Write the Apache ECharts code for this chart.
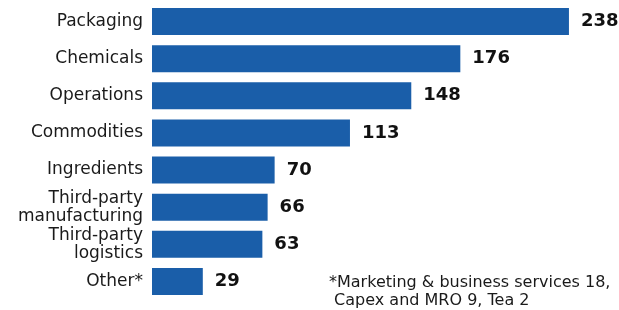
<!DOCTYPE html>
<html>
<head>
<meta charset="utf-8">
<script src="https://cdn.jsdelivr.net/npm/echarts@6/dist/echarts.min.js"></script>
<style>
html, body { margin: 0; padding: 0; background: #fff; }
#main { width: 619px; height: 310px; }
</style>
</head>
<body>
<div id="main"></div>
<script>
var categories = ['Packaging', 'Chemicals', 'Operations', 'Commodities', 'Ingredients',
    'Third-party\nmanufacturing', 'Third-party\nlogistics', 'Other*'];
var values = [238, 176, 148, 113, 70, 66, 63, 29];
var footnote = '*Marketing & business services 18,\n Capex and MRO 9, Tea 2';

var myChart = echarts.init(document.getElementById('main'));
var option = {
    backgroundColor: '#fff',
    animation: false,
    textStyle: { fontFamily: 'DejaVu Sans' },
    grid: { left: 152, right: 1, top: 3, bottom: 10 },
    xAxis: {
        type: 'value',
        min: 0,
        max: 266,
        show: false
    },
    yAxis: {
        type: 'category',
        inverse: true,
        data: categories,
        axisLine: { show: false },
        axisTick: { show: false },
        axisLabel: {
            margin: 9,
            fontSize: 17,
            lineHeight: 18,
            color: '#1a1a1a'
        }
    },
    series: [{
        type: 'bar',
        data: values,
        barWidth: 27,
        itemStyle: { color: '#1a5ea9' },
        label: {
            show: true,
            position: 'right',
            distance: 12,
            fontSize: 18,
            fontWeight: 'bold',
            color: '#111'
        }
    }],
    graphic: [{
        type: 'text',
        left: 329,
        top: 274,
        style: {
            text: footnote,
            font: '16px "DejaVu Sans"',
            lineHeight: 18,
            fill: '#1a1a1a'
        }
    }]
};
myChart.setOption(option);
window.onresize = function () {
    myChart.resize();
};
</script>
</body>
</html>
